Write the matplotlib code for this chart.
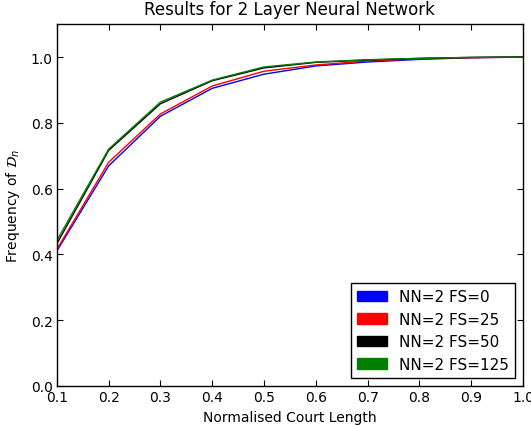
import matplotlib
matplotlib.use("Agg")
import matplotlib.pyplot as plt
import matplotlib.patches as mpatches

court_length = [0.1, 0.2, 0.3, 0.4, 0.5, 0.6, 0.7, 0.8, 0.9, 1.0]
fs0 = [0.410, 0.669, 0.820, 0.905, 0.948, 0.973, 0.985, 0.993, 0.998, 1.0]
fs25 = [0.415, 0.680, 0.827, 0.912, 0.957, 0.976, 0.988, 0.995, 0.998, 1.0]
fs50 = [0.432, 0.716, 0.858, 0.928, 0.967, 0.984, 0.991, 0.996, 0.999, 1.0]
fs125 = [0.442, 0.720, 0.863, 0.930, 0.970, 0.985, 0.992, 0.996, 0.999, 1.0]

labels = ["NN=2 FS=0", "NN=2 FS=25", "NN=2 FS=50", "NN=2 FS=125"]
colors = ["blue", "red", "black", "green"]

plt.rcParams["xtick.direction"] = "in"
plt.rcParams["ytick.direction"] = "in"
plt.rcParams["xtick.top"] = True
plt.rcParams["ytick.right"] = True

fig = plt.figure(figsize=(5.31, 4.27), dpi=100)
ax = fig.add_axes([0.107, 0.094, 0.878, 0.847])

for ys, c in zip([fs0, fs25, fs50, fs125], colors):
    ax.plot(court_length, ys, color=c, linewidth=1)

ax.set_xlim(0.1, 1.0)
ax.set_ylim(0.0, 1.1)
ax.set_xticks([0.1, 0.2, 0.3, 0.4, 0.5, 0.6, 0.7, 0.8, 0.9, 1.0])
ax.set_yticks([0.0, 0.2, 0.4, 0.6, 0.8, 1.0])
ax.tick_params(labelsize=10, length=4, width=0.8, pad=3)
for s in ax.spines.values():
    s.set_linewidth(1.0)

ax.set_xlabel("Normalised Court Length", fontsize=10)
ax.set_ylabel(r"Frequency of $\mathcal{D}_n$", fontsize=10, labelpad=6)
ax.set_title("Results for 2 Layer Neural Network", fontsize=12, pad=7)

handles = [mpatches.Patch(color=c, label=l) for c, l in zip(colors, labels)]
leg = ax.legend(handles=handles, loc="lower right", fontsize=11, fancybox=False,
                framealpha=1, edgecolor="black", borderaxespad=0.5)
leg.get_frame().set_linewidth(1.0)

fig.savefig("out.png", dpi=100)
